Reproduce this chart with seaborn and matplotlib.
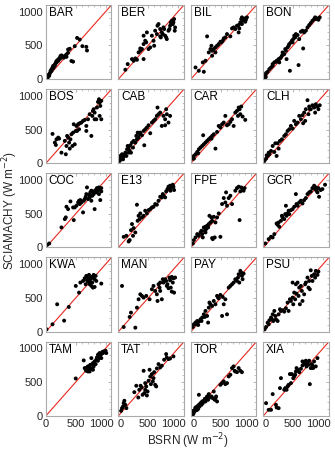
import numpy as np
import pandas as pd
import matplotlib
matplotlib.use("Agg")
import matplotlib.pyplot as plt
import matplotlib.transforms as mtransforms
import seaborn as sns
from matplotlib.ticker import MultipleLocator

stations = ["BAR", "BER", "BIL", "BON", "BOS", "CAB", "CAR", "CLH", "COC", "E13",
            "FPE", "GCR", "KWA", "MAN", "PAY", "PSU", "TAM", "TAT", "TOR", "XIA"]

# (BSRN, SCIAMACHY) pairs in W m-2
BAR = [(22,24),(39,49),(56,73),(67,88),(78,122),(95,147),(111,171),(122,196),(150,220),(167,245),
       (178,269),(206,293),(234,318),(245,342),(261,352),(289,333),(300,318),(317,342),(345,367),
       (372,440),(400,450),(428,269),(456,259),(484,489),(523,611),(567,587),(612,489),(678,479),
       (689,425),(206,270),(150,200),(95,120),(56,50),(261,320),(234,300),(178,245),(122,160),
       (345,330),(372,390),(30,20),(45,60),(130,175)]
BER = [(117,139),(156,223),(228,297),(256,272),(284,307),(311,287),(339,396),(367,421),(395,446),
       (423,297),(367,455),(423,520),(450,569),(467,545),(478,693),(506,446),(534,470),(562,644),
       (589,569),(600,495),(617,718),(645,668),(656,792),(673,817),(701,743),(712,619),(728,693),
       (745,668),(756,767),(767,743),(784,644),(801,619),(812,594),(840,718),(856,743),(867,792),
       (878,842),(895,866),(923,842),(934,891),(912,817),(945,718),(951,767),(423,644),(701,634)]
BIL = [(78,173),(133,124),(200,248),(217,109),(245,272),(272,634),(300,396),(328,446),(345,495),
       (356,421),(384,446),(412,470),(439,495),(467,520),(495,554),(512,545),(534,569),(551,604),
       (578,619),(606,668),(662,634),(690,752),(717,767),(745,743),(773,792),(801,802),(812,752),
       (829,842),(845,891),(856,916),(867,866),(884,891),(901,900),(912,851),(923,881),(940,916),
       (856,817),(801,693),(356,347),(412,396)]
BON = [(17,40),(33,59),(45,89),(72,109),(100,149),(128,173),(156,223),(184,248),(211,257),(222,272),
       (256,297),(278,307),(295,322),(311,347),(322,396),(350,371),(367,446),(378,421),(389,297),
       (406,470),(423,495),(434,520),(445,124),(462,545),(478,569),(490,545),(501,594),(517,644),
       (534,619),(545,668),(573,653),(590,208),(601,594),(629,703),(656,718),(667,455),(684,693),
       (712,718),(740,767),(768,802),(795,832),(823,866),(851,891),(868,916),(879,891),(907,900),
       (923,881),(945,916),(267,248),(156,198),(20,20),(40,30)]
BOS = [(111,436),(150,307),(167,272),(178,356),(206,381),(222,366),(261,158),(317,332),(334,134),
       (345,257),(356,406),(372,381),(389,307),(400,218),(412,356),(428,431),(445,257),(456,455),
       (467,579),(484,282),(501,480),(512,554),(523,480),(540,579),(556,505),(567,594),(595,604),
       (623,629),(651,644),(678,554),(706,653),(734,728),(762,406),(778,703),(789,777),(801,802),
       (817,752),(845,653),(856,827),(873,911),(890,950),(901,901),(912,851),(929,926),(901,703),
       (929,653),(817,653),(678,480)]
CAB = [(22,35),(33,109),(45,69),(61,134),(78,59),(89,99),(117,158),(145,208),(156,257),(172,233),
       (189,183),(200,267),(211,158),(228,307),(245,233),(256,332),(284,307),(300,406),(311,356),
       (323,455),(339,381),(356,431),(367,455),(395,416),(423,480),(434,267),(450,505),(478,530),
       (506,564),(534,446),(562,604),(589,629),(617,653),(645,703),(656,827),(673,728),(701,752),
       (728,554),(756,703),(784,653),(801,802),(812,728),(840,604),(867,703),(784,564),(134,109),
       (172,158),(20,60),(60,90),(100,130)]
CAR = [(22,69),(50,109),(78,134),(106,168),(122,149),(161,233),(189,257),(206,416),(217,282),
       (245,307),(272,332),(300,356),(328,381),(345,366),(356,406),(384,431),(412,218),(439,465),
       (467,554),(495,530),(523,579),(551,604),(578,703),(606,564),(634,579),(662,614),(690,653),
       (717,554),(745,752),(773,777),(790,703),(801,827),(817,802),(829,728),(845,842),(867,693),
       (912,644),(50,69),(134,208)]
CLH = [(17,35),(45,69),(56,119),(72,109),(89,158),(100,134),(128,183),(156,257),(184,168),(200,297),
       (222,109),(239,297),(256,218),(278,332),(311,356),(350,406),(378,431),(406,480),(434,505),
       (462,554),(490,515),(517,629),(545,579),(573,604),(601,703),(629,653),(656,713),(667,594),
       (684,752),(701,629),(712,802),(740,936),(756,728),(768,842),(795,802),(823,861),(851,827),
       (879,876),(907,842),(923,802),(945,861),(868,752),(779,802)]
COC = [(22,40),(56,59),(261,297),(317,421),(334,446),(345,604),(372,569),(412,683),(456,594),
       (467,406),(484,594),(512,619),(540,668),(556,693),(578,703),(595,668),(623,520),(634,693),
       (651,718),(667,752),(678,792),(689,891),(706,718),(723,782),(734,743),(745,817),(762,842),
       (778,767),(789,832),(801,792),(817,569),(834,852),(845,817),(856,881),(873,842),(890,891),
       (901,866),(912,703),(929,881),(929,832),(890,792),(762,693),(567,644)]
E13 = [(89,158),(134,173),(172,89),(189,109),(211,257),(245,173),(256,287),(284,223),(311,634),
       (323,396),(339,470),(356,421),(367,505),(395,446),(423,470),(450,545),(478,505),(506,554),
       (534,569),(562,594),(589,604),(617,644),(645,634),(673,693),(701,752),(728,743),(745,792),
       (756,767),(784,743),(801,832),(823,866),(840,901),(856,881),(867,916),(895,891),(912,931),
       (923,901),(934,852),(873,842),(228,347)]
FPE = [(33,59),(50,109),(78,149),(106,198),(134,173),(161,223),(178,248),(189,198),(200,149),
       (217,297),(234,248),(245,307),(256,272),(272,322),(289,297),(300,347),(311,470),(328,371),
       (345,446),(356,139),(367,124),(384,455),(400,149),(412,371),(439,446),(467,505),(495,158),
       (523,644),(551,733),(578,668),(590,817),(606,619),(634,733),(662,767),(690,644),(745,842),
       (773,881),(801,901),(817,406),(829,832),(845,891),(867,866),(884,842),(901,881),(356,396),
       (245,223)]
GCR = [(33,59),(89,124),(128,158),(156,149),(184,198),(222,356),(239,337),(256,371),(267,307),
       (295,396),(311,470),(322,446),(350,421),(367,495),(378,619),(389,470),(406,505),(423,545),
       (434,495),(462,554),(490,569),(517,604),(545,792),(556,644),(573,619),(601,668),(629,693),
       (656,653),(684,703),(712,733),(740,792),(768,817),(795,832),(823,881),(851,916),(868,866),
       (879,891),(907,817),(934,752),(962,852),(990,866),(1034,931),(923,881),(890,842)]
KWA = [(11,35),(111,109),(189,406),(306,163),(384,366),(501,678),(556,579),(578,728),(623,752),
       (651,792),(667,703),(678,827),(689,762),(706,802),(723,842),(734,728),(745,777),(762,812),
       (762,678),(778,728),(789,802),(801,842),(817,777),(834,827),(845,752),(789,653),(817,663),
       (929,713),(734,703),(706,743)]
MAN = [(61,678),(89,69),(189,218),(211,282),(284,59),(311,356),(339,480),(367,554),(395,530),
       (423,505),(467,530),(523,480),(562,629),(589,678),(617,604),(645,554),(656,455),(673,703),
       (690,653),(701,728),(728,480),(745,777),(756,728),(784,777),(801,752),(812,678),(823,703),
       (840,644),(856,802),(867,762),(878,653),(895,812),(912,728),(923,792),(934,579),(951,802),
       (895,594),(701,604)]
PAY = [(33,69),(50,109),(78,134),(89,109),(106,158),(134,149),(161,183),(178,158),(189,208),
       (217,257),(234,218),(245,307),(272,233),(289,134),(300,356),(311,431),(328,406),(356,381),
       (384,455),(412,406),(439,530),(456,505),(467,495),(495,545),(523,233),(534,515),(551,406),
       (578,480),(606,257),(634,653),(662,678),(690,703),(717,728),(745,777),(773,752),(790,802),
       (801,851),(812,728),(829,901),(845,876),(856,827),(884,861),(867,777),(123,99)]
PSU = [(22,35),(45,69),(72,134),(89,109),(100,168),(128,208),(145,183),(156,257),(167,158),(184,307),
       (200,233),(211,183),(239,158),(256,257),(278,332),(295,307),(322,317),(350,297),(378,347),
       (406,431),(423,307),(445,480),(462,455),(490,505),(501,406),(517,579),(534,480),(545,703),
       (556,564),(573,728),(590,530),(601,653),(612,406),(629,678),(645,604),(656,455),(684,554),
       (701,703),(712,728),(740,802),(756,653),(768,752),(795,910),(812,827),(823,752),(851,851),
       (868,802),(879,901),(907,842),(923,891),(779,629),(490,728)]
TAM = [(500,554),(634,822),(651,708),(667,683),(678,668),(689,718),(706,658),(723,733),(734,698),
       (745,757),(762,856),(778,708),(789,782),(801,733),(817,807),(834,767),(845,832),(856,866),
       (873,906),(890,856),(901,931),(912,896),(929,916),(945,945),(956,931),(967,955),(984,945),
       (1001,965),(1012,931),(929,856),(873,817),(789,683),(734,658),(706,733),(890,916)]
TAT = [(45,74),(61,114),(78,139),(89,188),(100,223),(117,163),(134,114),(267,351),(300,446),
       (334,272),(350,386),(372,446),(389,421),(406,312),(423,668),(434,337),(450,386),(467,436),
       (478,302),(490,361),(506,520),(523,683),(534,584),(545,470),(562,619),(578,510),(589,559),
       (601,648),(617,460),(634,436),(645,703),(673,767),(701,718),(728,743),(767,832),(812,866),
       (840,842),(867,851),(923,881),(801,916),(450,485)]
TOR = [(11,15),(22,40),(33,64),(45,74),(56,55),(67,89),(78,114),(89,84),(100,124),(111,144),
       (123,104),(134,163),(145,139),(161,188),(178,163),(189,213),(200,188),(217,223),(234,252),
       (245,213),(261,262),(272,287),(289,238),(300,322),(317,272),(345,287),(367,262),(384,361),
       (400,238),(412,262),(423,287),(439,213),(495,460),(523,485),(551,510),(578,470),(606,485),
       (634,584),(662,609),(690,708),(717,733),(734,668),(745,658),(773,648),(801,708),(829,668),
       (856,648),(134,312),(78,124),(33,40),(106,89),(20,30),(40,25),(60,70),(90,100)]
XIA = [(45,188),(89,89),(128,89),(156,322),(211,163),(222,124),(256,114),(278,411),(295,559),
       (350,386),(367,411),(389,386),(406,436),(423,460),(445,619),(462,485),(478,619),(501,559),
       (517,584),(534,609),(545,658),(556,708),(573,683),(601,648),(629,698),(656,747),(684,782),
       (701,767),(712,817),(723,733),(740,792),(756,757),(768,817),(779,470),(795,708),(812,767),
       (823,747),(834,708),(851,807),(879,733),(907,856),(656,807)]

data_by_station = {"BAR": BAR, "BER": BER, "BIL": BIL, "BON": BON, "BOS": BOS, "CAB": CAB,
                   "CAR": CAR, "CLH": CLH, "COC": COC, "E13": E13, "FPE": FPE, "GCR": GCR,
                   "KWA": KWA, "MAN": MAN, "PAY": PAY, "PSU": PSU, "TAM": TAM, "TAT": TAT,
                   "TOR": TOR, "XIA": XIA}

rows = []
for st in stations:
    for bx, sy in data_by_station[st]:
        rows.append({"station": st, "BSRN": bx, "SCIAMACHY": sy})
df = pd.DataFrame(rows)

tick_vals = [0, 500, 1000]
tick_labels = ["0", "500", "1000"]
lim = 1100

sns.set_theme(style="white")
plt.rcParams["font.family"] = ["Liberation Sans", "DejaVu Sans"]

fig, axes = plt.subplots(5, 4, figsize=(3.35, 4.51), dpi=100)
fig.subplots_adjust(left=0.137, right=0.982, top=0.989, bottom=0.078,
                    wspace=0.105, hspace=0.135)

for i, st in enumerate(stations):
    ax = axes.flat[i]
    r, c = divmod(i, 4)
    sub = df[df["station"] == st]
    ax.plot([0, lim], [0, lim], color="#e8281e", lw=0.8, zorder=1)
    sns.scatterplot(data=sub, x="BSRN", y="SCIAMACHY", ax=ax, color="black",
                    s=8, edgecolor="none", linewidth=0, zorder=2, legend=False)
    ax.set_xlim(0, lim)
    ax.set_ylim(0, lim)
    ax.set_xticks(tick_vals)
    ax.set_yticks(tick_vals)
    ax.xaxis.set_minor_locator(MultipleLocator(100))
    ax.yaxis.set_minor_locator(MultipleLocator(100))
    ax.tick_params(which="both", direction="in", color="#aaaaaa", top=True, right=True,
                   labelsize=8, pad=2)
    ax.tick_params(which="major", length=2.5, width=0.6)
    ax.tick_params(which="minor", length=1.5, width=0.5)
    if c == 0:
        ax.set_yticklabels(tick_labels)
    else:
        ax.set_yticklabels([])
    if r == 4:
        ax.set_xticklabels(tick_labels)
    else:
        ax.set_xticklabels([])
    ax.set_xlabel("")
    ax.set_ylabel("")
    for sp in ax.spines.values():
        sp.set_color("#aaaaaa")
        sp.set_linewidth(0.8)
    ax.text(0.04, 0.975, st, transform=ax.transAxes, ha="left", va="top",
            fontsize=8.5, color="black")

# nudge the bottom-row x tick labels so "1000" and the next "0" do not collide
for c in range(4):
    ax = axes[4, c]
    for lab in ax.get_xticklabels():
        t = lab.get_text()
        if t == "1000":
            dx = -3.0
        elif t == "0" and c > 0:
            dx = 2.0
        else:
            dx = 0.0
        if dx:
            off = mtransforms.ScaledTranslation(dx / 72, 0, fig.dpi_scale_trans)
            lab.set_transform(lab.get_transform() + off)

fig.text(0.03, 0.533, "SCIAMACHY (W m$^{-2}$)", rotation=90, ha="center", va="center",
         fontsize=8.5)
fig.text(0.56, 0.022, "BSRN (W m$^{-2}$)", ha="center", va="center", fontsize=8.5)

fig.savefig("out.png", dpi=100)
